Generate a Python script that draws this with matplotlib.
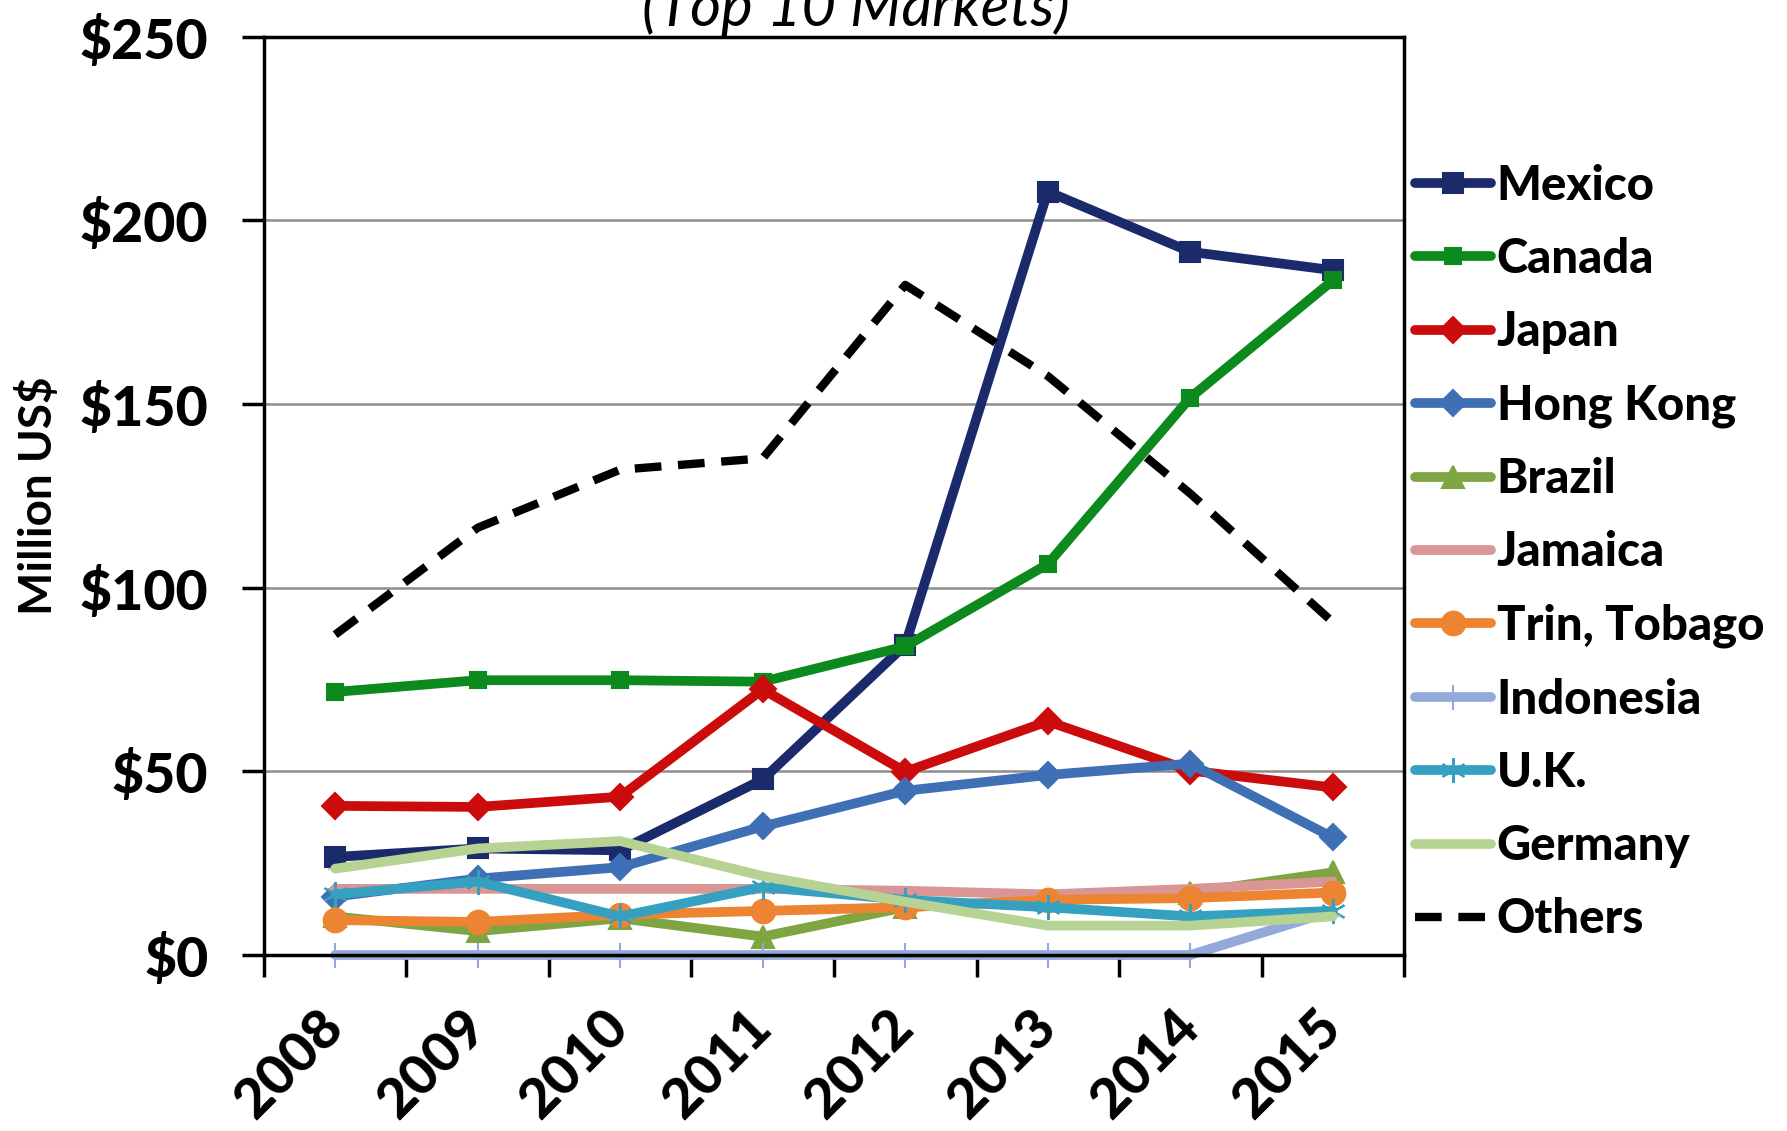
import numpy as np
import matplotlib.pyplot as plt

plt.rcParams['font.family'] = ['Lato', 'DejaVu Sans']

years = ['2008', '2009', '2010', '2011', '2012', '2013', '2014', '2015']

mexico = [26.7, 29, 28.5, 47.8, 84.4, 207.8, 191.4, 186.4]
canada = [71.6, 74.8, 74.8, 74.4, 84, 106.4, 151.7, 183.6]
japan = [40.6, 40.3, 43.1, 72.3, 49.9, 63.6, 50.2, 45.6]
hong_kong = [15.9, 20.8, 23.9, 35, 44.7, 49, 52.1, 32]
brazil = [10.5, 6.5, 10, 5, 13, 15, 17, 22.5]
jamaica = [18, 18, 18, 18, 17.5, 16.5, 18, 20]
trin_tobago = [9.5, 9, 11, 12, 13, 15, 15.5, 17]
indonesia = [0, 0, 0, 0, 0, 0, 0, 12]
uk = [16.5, 20, 10.5, 18.5, 15, 13, 10.5, 12]
germany = [23.5, 29, 31, 21.5, 14.5, 8, 8, 10.5]
others = [87.2, 116.3, 132.1, 135.2, 182.4, 157.6, 125.6, 90.6]

series = [
    ('Mexico', mexico, '#1b2a6b', 's', 14),
    ('Canada', canada, '#0c8a1e', 's', 11),
    ('Japan', japan, '#cc0c0c', 'D', 13),
    ('Hong Kong', hong_kong, '#3f6fb5', 'D', 13),
    ('Brazil', brazil, '#7fa542', '^', 16),
    ('Jamaica', jamaica, '#d99694', '_', 10),
    ('Trin, Tobago', trin_tobago, '#ec8431', 'o', 17),
    ('Indonesia', indonesia, '#93a9d9', '|', 18),
    ('U.K.', uk, '#36a0c0', (6, 2, 0), 18),
    ('Germany', germany, '#b7d393', '_', 10),
]

fig = plt.figure(figsize=(17.87, 11.31), dpi=100)
ax = fig.add_axes([0.1477, 0.1556, 0.638, 0.8121])

x = np.arange(len(years)) + 0.5
for name, vals, col, mk, ms in series:
    ax.plot(x, vals, color=col, lw=7, marker=mk, ms=ms, mec=col, mfc=col,
            mew=1.5, label=name, clip_on=False, solid_capstyle='round')
ax.plot(x, others, color='black', lw=6, ls=(0, (3.2, 2.0)), label='Others',
        clip_on=False)

ax.set_xlim(0, 8)
ax.set_ylim(0, 250)
ax.set_yticks([0, 50, 100, 150, 200, 250])
ax.set_yticklabels(['$0', '$50', '$100', '$150', '$200', '$250'],
                   fontsize=40, fontweight='black')
ax.set_xticks(np.arange(0, 9))
ax.set_xticklabels([])
ax.set_xticks(x, minor=True)
ax.set_xticklabels(years, minor=True, rotation=45, ha='right',
                   rotation_mode='anchor', va='center',
                   fontsize=40, fontweight='black')
ax.tick_params(axis='y', direction='out', length=16, width=2.5, pad=24)
ax.tick_params(axis='x', which='major', direction='out', length=16, width=2.5)
ax.tick_params(axis='x', which='minor', length=0, pad=46)
ax.grid(axis='y', color='#8c8c8c', lw=1.8)
ax.set_axisbelow(True)
for s in ax.spines.values():
    s.set_linewidth(2.5)

ax.set_ylabel('Million US$', fontsize=33, fontweight='bold', labelpad=14)

# title sits partly above the top edge, as in the original
fig.text(0.479, 0.977, '(Top 10 Markets)', ha='center', va='baseline',
         fontsize=43, style='italic')

fig.legend(loc='center left', bbox_to_anchor=(0.792, 0.5115), frameon=False,
           prop={'weight': 'black', 'size': 34},
           handlelength=1.6, handletextpad=0.12, labelspacing=0.62,
           borderpad=0, borderaxespad=0)

fig.savefig('out.png', dpi=100)
